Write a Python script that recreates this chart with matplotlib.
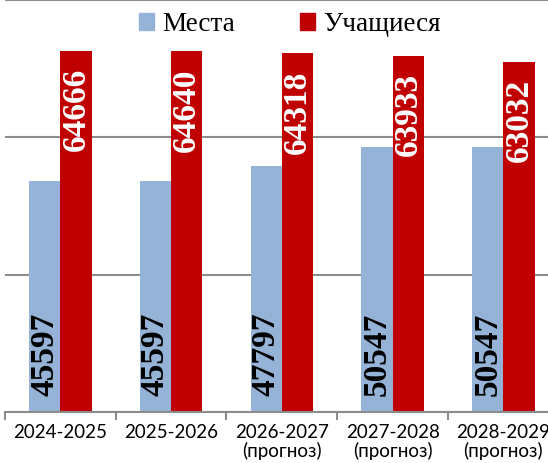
import matplotlib.pyplot as plt
from matplotlib.patches import Patch
import numpy as np

# Data
years = ['2024-2025', '2025-2026', '2026-2027\n(прогноз)', '2027-2028\n(прогноз)', '2028-2029\n(прогноз)']
places = [45597, 45597, 47797, 50547, 50547]
students = [64666, 64640, 64318, 63933, 63032]

blue = '#95B3D7'
red = '#C00000'
grid_col = '#8c8c8c'

fig = plt.figure(figsize=(5.48, 4.63), dpi=100)
ax = fig.add_axes([5 / 548, 51.3 / 463, 553.75 / 548, 411.4 / 463])

x = np.arange(len(years))
w = 0.283
ax.bar(x - w / 2, places, width=w, color=blue, zorder=2)
ax.bar(x + w / 2, students, width=w, color=red, zorder=2)

ax.set_xlim(-0.5, len(years) - 0.5)
ax.set_ylim(12000, 72000)
ax.set_yticks([12000, 32000, 52000, 72000])
ax.yaxis.grid(True, color=grid_col, linewidth=1.5, zorder=0)
ax.tick_params(axis='y', left=False, labelleft=False)

for s in ['left', 'right', 'top']:
    ax.spines[s].set_visible(False)
ax.spines['bottom'].set_color(grid_col)
ax.spines['bottom'].set_linewidth(1.5)

ax.set_xticks(x)
ax.set_xticklabels(years, fontfamily='Lato', fontsize=13.5, linespacing=1.05)
ax.tick_params(axis='x', which='major', length=0, pad=9)
ax.set_xticks(np.arange(len(years) + 1) - 0.5, minor=True)
ax.tick_params(axis='x', which='minor', length=6, width=1.5, color=grid_col)

# value labels inside the bars
for xi, v in zip(x, places):
    ax.annotate(str(v), xy=(xi - w / 2, 12000), xytext=(0, 11), textcoords='offset points',
                rotation=90, ha='center', va='bottom', color='black',
                fontfamily='Liberation Serif', fontweight='bold', fontsize=24)
for xi, v in zip(x, students):
    ax.annotate(str(v), xy=(xi + w / 2, v), xytext=(0, -12.5), textcoords='offset points',
                rotation=90, ha='center', va='top', color='white',
                fontfamily='Liberation Serif', fontweight='bold', fontsize=24)

handles = [Patch(color=blue, label='Места'), Patch(color=red, label='Учащиеся')]
fig.legend(handles=handles, loc='center', bbox_to_anchor=(290 / 548, 1 - 24.5 / 463), ncol=2,
           frameon=False, prop={'family': 'Liberation Serif', 'size': 19.5},
           handlelength=0.56, handleheight=0.56, handletextpad=0.3, columnspacing=2.4)

fig.savefig('out.png', dpi=100)
